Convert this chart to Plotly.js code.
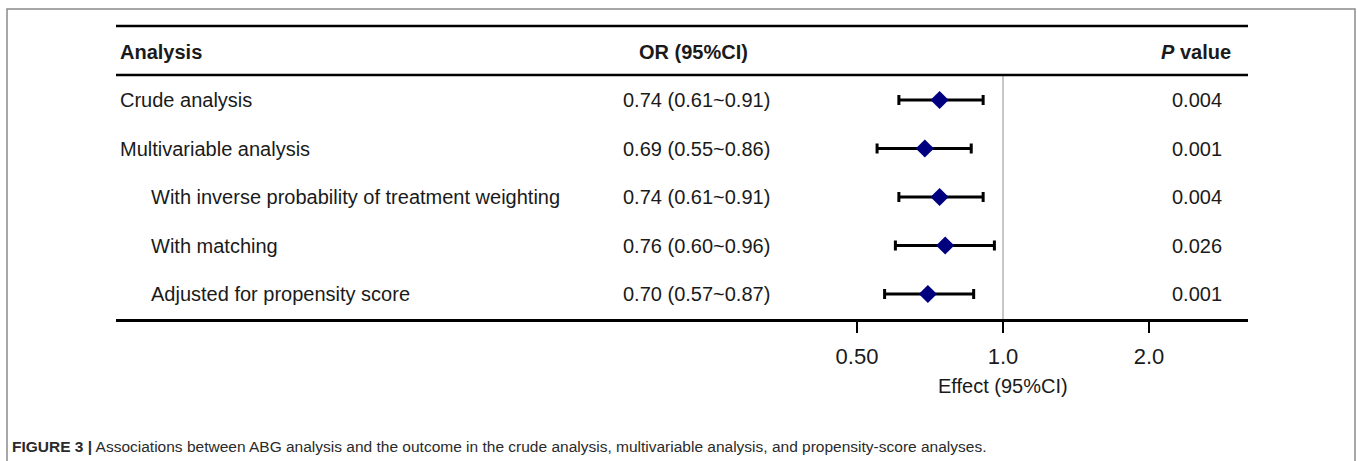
<!DOCTYPE html>
<html>
<head>
<meta charset="utf-8">
<script src="https://cdn.plot.ly/plotly-3.0.1.min.js"></script>
<style>
  html, body { margin: 0; padding: 0; background: #fff; }
  #chart { width: 1357px; height: 461px; }
</style>
</head>
<body>
<div id="chart"></div>
<script>
// ---- data ----
const analyses = ["Crude analysis", "Multivariable analysis",
  "With inverse probability of treatment weighting", "With matching",
  "Adjusted for propensity score"];
const indented = [false, false, true, true, true];
const orValues = [0.74, 0.69, 0.74, 0.76, 0.70];
const ciLow = [0.61, 0.55, 0.61, 0.60, 0.57];
const ciHigh = [0.91, 0.86, 0.91, 0.96, 0.87];
const pValues = ["0.004", "0.001", "0.004", "0.026", "0.001"];
const tickValues = [0.5, 1, 2];
const tickLabels = ["0.50", "1.0", "2.0"];
const caption = "Associations between ABG analysis and the outcome in the crude analysis, multivariable analysis, and propensity-score analyses.";

// ---- layout geometry (pixels) ----
const W = 1357, H = 461;
const L = 116, R = 1248, T = 26, B = 319;
const px = x => (x - L) / (R - L);      // pixel -> paper x
const py = y => (B - y) / (B - T);      // pixel -> paper y
const rows = analyses.map((_, i) => i + 1);

const FONT = '"Liberation Sans", Arial, Helvetica, sans-serif';
const TXT = '#1a1a1a';

const trace = {
  type: 'scatter', mode: 'markers',
  x: orValues, y: rows,
  marker: { symbol: 'diamond', size: 14, color: '#00007f', line: { width: 0 } },
  error_x: {
    type: 'data', symmetric: false,
    array: orValues.map((v, i) => ciHigh[i] - v),
    arrayminus: orValues.map((v, i) => v - ciLow[i]),
    color: '#000', thickness: 3, width: 5
  },
  hoverinfo: 'skip', showlegend: false, cliponaxis: false
};

const ann = [];
function t(text, xpx, yval, anchor, opts = {}) {
  ann.push(Object.assign({
    text, x: px(xpx), xref: 'paper', y: yval, yref: 'y',
    xanchor: anchor, yanchor: 'middle', showarrow: false,
    font: { family: FONT, size: 20, color: TXT }
  }, opts));
}
// header
t('<b>Analysis</b>', 118, 0, 'left');
t('<b>OR (95%CI)</b>', 693, 0, 'center');
t('<b><i>P</i> value</b>', 1233, 0, 'right');
// rows
analyses.forEach((a, i) => {
  t(a, indented[i] ? 149 : 118, rows[i], 'left');
  t(orValues[i].toFixed(2) + ' (' + ciLow[i].toFixed(2) + '~' + ciHigh[i].toFixed(2) + ')', 621, rows[i], 'left');
  t(pValues[i], 1224, rows[i], 'right');
});
// axis title centred on the null line (log axis: annotation x is log10 of value)
ann.push({
  text: 'Effect (95%CI)', x: Math.log10(1), xref: 'x', y: py(386), yref: 'paper',
  xanchor: 'center', yanchor: 'middle', showarrow: false,
  font: { family: FONT, size: 20, color: TXT }
});
// caption
ann.push({
  text: '<b>FIGURE 3 |</b> ' + caption, x: px(10), xref: 'paper', y: py(446), yref: 'paper',
  xanchor: 'left', yanchor: 'middle', showarrow: false, align: 'left',
  font: { family: FONT, size: 15.5, color: '#2a2a2a' }
});

const shapes = [
  // frame
  { type: 'rect', xref: 'paper', yref: 'paper', x0: px(7), x1: px(1355), y0: py(475), y1: py(9),
    line: { color: '#8a8a8a', width: 1.5 }, fillcolor: 'rgba(0,0,0,0)', layer: 'below' },
  // top rule
  { type: 'line', xref: 'paper', yref: 'paper', x0: 0, x1: 1, y0: 1, y1: 1, line: { color: '#000', width: 2.6 } },
  // header rule
  { type: 'line', xref: 'paper', yref: 'paper', x0: 0, x1: 1, y0: py(75), y1: py(75), line: { color: '#000', width: 2.6 } },
  // null line
  { type: 'line', xref: 'x', yref: 'paper', x0: 1, x1: 1, y0: 0, y1: py(75), line: { color: '#b5b5b5', width: 1.5 }, layer: 'below' }
];

// log-x range so that 0.5 -> 857px and 1.0 -> 1003px
const pxPerDec = (1003 - 857) / Math.log10(2);
const xr = [-(1003 - L) / pxPerDec, (R - 1003) / pxPerDec];
const rowPx = 48.5, row0 = 51.5;
const yr = [(B - row0) / rowPx, (T - row0) / rowPx];

const layout = {
  width: W, height: H,
  margin: { l: L, r: W - R, t: T, b: H - B, pad: 0 },
  paper_bgcolor: '#fff', plot_bgcolor: '#fff',
  xaxis: {
    type: 'log', range: xr, tickmode: 'array', tickvals: tickValues, ticktext: tickLabels,
    showgrid: false, zeroline: false, showline: true, linecolor: '#000', linewidth: 2.6,
    ticks: 'outside', ticklen: 11, tickwidth: 1.5, tickcolor: '#000', ticklabelstandoff: 5,
    tickfont: { family: FONT, size: 22, color: TXT }, fixedrange: true
  },
  yaxis: { range: yr, visible: false, showgrid: false, zeroline: false, fixedrange: true },
  annotations: ann, shapes: shapes, showlegend: false
};

Plotly.newPlot('chart', [trace], layout, { staticPlot: true, displayModeBar: false });
</script>
</body>
</html>
